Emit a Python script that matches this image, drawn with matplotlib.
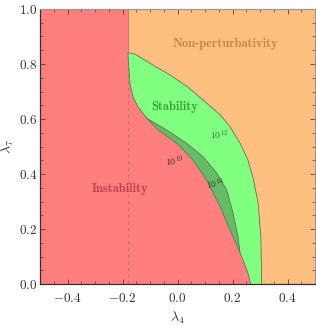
"""Stability / perturbativity regions in the (lambda4, lambda7) plane."""

import matplotlib
matplotlib.use('Agg')
import matplotlib.pyplot as plt
from matplotlib.ticker import MultipleLocator

plt.rcParams['font.family'] = 'serif'
plt.rcParams['font.serif'] = ['cmr10']
plt.rcParams['mathtext.fontset'] = 'cm'
plt.rcParams['axes.formatter.use_mathtext'] = True

# lambda4 where the instability wall sits
lam4_wall = -0.18

# outer edge of the stable region (green / orange)
lam4_outer = [-0.180, -0.155, -0.089, -0.027, 0.035, 0.093, 0.155, 0.191,
              0.227, 0.256, 0.275, 0.293, 0.303, 0.306]
lam7_outer = [0.841, 0.836, 0.796, 0.760, 0.718, 0.669, 0.615, 0.572,
              0.513, 0.451, 0.385, 0.295, 0.171, 0.0]

# left edge of the stable region, green directly on red
lam4_left = [-0.180, -0.179, -0.173, -0.162, -0.144, -0.112]
lam7_left = [0.841, 0.815, 0.731, 0.681, 0.645, 0.603]

# upper edge of the dark band (stable up to 10^16 .. 10^19 GeV)
lam4_band = [-0.112, -0.039, 0.033, 0.093, 0.143, 0.179, 0.202, 0.220, 0.227]
lam7_band = [0.603, 0.560, 0.512, 0.463, 0.403, 0.342, 0.258, 0.172, 0.116]

# edge of the instability region
lam4_red = [-0.112, -0.070, -0.003, 0.056, 0.106, 0.155, 0.191, 0.227,
            0.238, 0.256, 0.266]
lam7_red = [0.603, 0.560, 0.512, 0.451, 0.378, 0.281, 0.196, 0.116,
            0.087, 0.040, 0.0]

c_red = '#ff7f7f'
c_orange = '#ffbf80'
c_green = '#80ff80'
c_dark = '#66bb66'
c_edge = '#5a6e55'

fig = plt.figure(figsize=(3.16, 3.26), dpi=100)
ax = fig.add_axes([0.1266, 0.1288, 0.8703, 0.8436])
ax.set_facecolor(c_red)

# orange: everything right of the wall and outside the stable region
ox = [lam4_wall, 0.5, 0.5] + lam4_outer[::-1]
oy = [1.0, 1.0, 0.0] + lam7_outer[::-1]
ax.fill(ox, oy, color=c_orange, lw=0, zorder=1)

ax.plot([lam4_wall, lam4_wall], [0, lam7_outer[0]], ls=(0, (3, 3)),
        color='#d06c6c', lw=0.8, zorder=1.5)
ax.plot([lam4_wall, lam4_wall], [lam7_outer[0], 1.0], color='#b07868',
        lw=0.6, zorder=2)

# light green: stable region
gx = lam4_outer + lam4_red[::-1] + lam4_left[::-1]
gy = lam7_outer + lam7_red[::-1] + lam7_left[::-1]
ax.fill(gx, gy, color=c_green, lw=0, zorder=2)

# dark green band
dx = lam4_band + lam4_red[:8][::-1]
dy = lam7_band + lam7_red[:8][::-1]
ax.fill(dx, dy, color=c_dark, lw=0, zorder=3)

for xs, ys in [(lam4_outer, lam7_outer), (lam4_left, lam7_left),
               (lam4_band, lam7_band), (lam4_red, lam7_red)]:
    ax.plot(xs, ys, color=c_edge, lw=0.55, zorder=4)

# labels
ax.text(0.173, 0.872, 'Non-perturbativity', family='cmb10', fontsize=9,
        color='#c8843c', ha='center', va='center', zorder=5)
ax.text(-0.010, 0.645, 'Stability', family='cmb10', fontsize=9,
        color='#33a833', ha='center', va='center', zorder=5)
ax.text(-0.208, 0.344, 'Instability', family='cmb10', fontsize=9,
        color='#c83c4c', ha='center', va='center', zorder=5)
ax.text(0.150, 0.542, r'$10^{12}$', fontsize=7, color='#2e7a2e',
        ha='center', va='center', zorder=5)
ax.text(-0.009, 0.444, r'$10^{19}$', fontsize=7, color='#3a2a2a',
        ha='center', va='center', rotation=5, zorder=5)
ax.text(0.136, 0.362, r'$10^{16}$', fontsize=7, color='#2a3a2a',
        ha='center', va='center', rotation=8, zorder=5)

ax.set_xlim(-0.5, 0.5)
ax.set_ylim(0, 1)
ax.xaxis.set_major_locator(MultipleLocator(0.2))
ax.yaxis.set_major_locator(MultipleLocator(0.2))
ax.xaxis.set_minor_locator(MultipleLocator(0.05))
ax.yaxis.set_minor_locator(MultipleLocator(0.05))
ax.xaxis.set_major_formatter(plt.FuncFormatter(lambda v, p: f'${v:.1f}$'))
ax.yaxis.set_major_formatter(plt.FuncFormatter(lambda v, p: f'${v:.1f}$'))
ax.tick_params(which='both', direction='in', top=True, right=True,
               colors='#444444', labelcolor='#333333', labelsize=9.5)
ax.tick_params(which='major', length=3.5, width=0.6)
ax.tick_params(which='minor', length=2, width=0.5)
ax.tick_params(axis='x', pad=6)
ax.tick_params(axis='y', pad=2)
for s in ax.spines.values():
    s.set_color('#333333')
    s.set_linewidth(0.9)
ax.spines['top'].set_color('#999999')
ax.spines['right'].set_color('#999999')

ax.set_xlabel(r'$\lambda_4$', fontsize=10, color='#333333', labelpad=3)
ax.set_ylabel(r'$\lambda_7$', fontsize=10, color='#333333', labelpad=2)

fig.savefig('out.png', dpi=100)
